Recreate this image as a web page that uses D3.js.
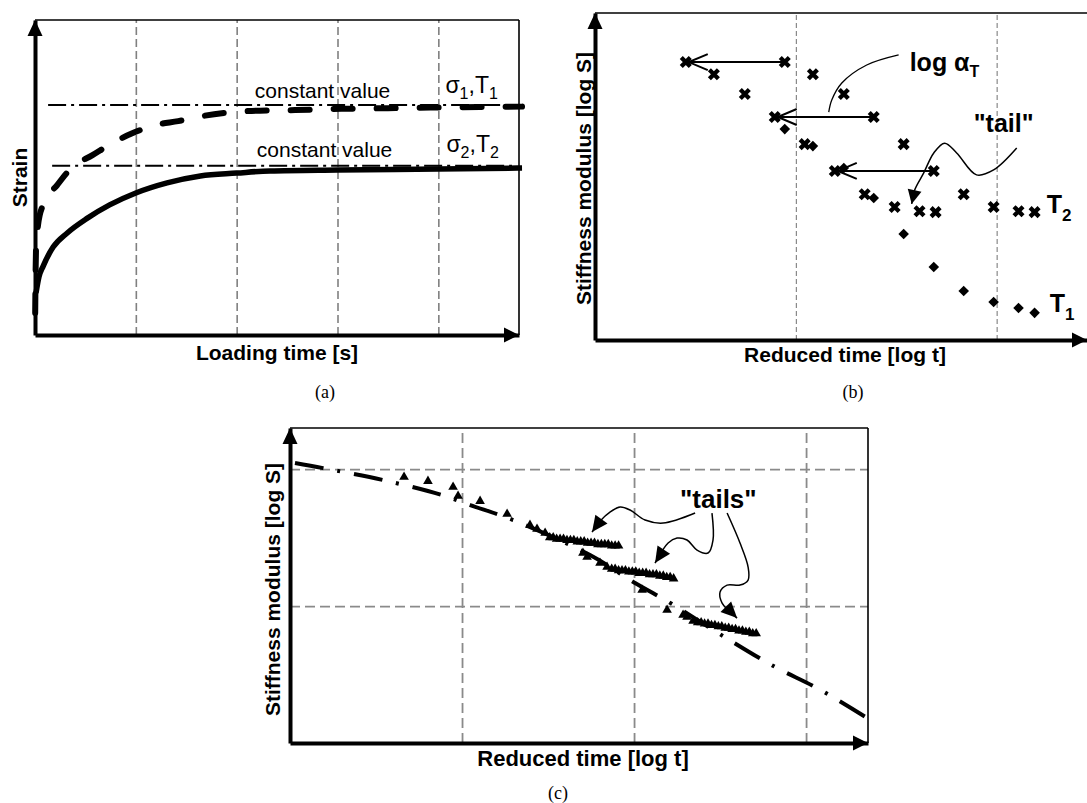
<!DOCTYPE html>
<html><head><meta charset="utf-8">
<script src="https://cdn.jsdelivr.net/npm/d3@7"></script>
<style>
body{margin:0;background:#fff;}
svg{display:block;}
text{font-family:"Liberation Sans",Arial,sans-serif;fill:#000;}
</style></head><body>
<svg id="chart" width="1087" height="803"></svg>
<script>
// ================= DATA =================
// Panel (a): strain vs loading time (schematic)
const aGridX = [1, 2, 3, 4];
const aConstLevels = [7.30, 5.37];
const aConstStart = [0.13, 0.17];
const aConstEnd = [4.83, 4.73];
const aConstLabels = ["constant value", "constant value"];
const aConstLabelPos = [[2.18, 7.52], [2.20, 5.65]];
const aSeriesSub = ["1", "2"];
const aSeriesLabelPos = [[4.07, 7.67], [4.08, 5.81]];
const aCurveDashed = [[0,0],[0.01,2.70],[0.03,3.49],[0.08,4.13],[0.22,4.76],[0.37,5.33],[0.57,5.71],[0.77,6.10],[0.97,6.41],[1.20,6.67],[1.42,6.79],[1.66,6.95],[1.88,7.05],[2.11,7.11],[2.58,7.14],[3.04,7.18],[3.50,7.20],[3.95,7.22],[4.41,7.24],[4.83,7.25]];
const aCurveSolid = [[0.01,1.33],[0.04,1.85],[0.08,2.18],[0.18,2.79],[0.32,3.24],[0.52,3.71],[0.74,4.13],[1.00,4.51],[1.31,4.83],[1.64,5.05],[2.00,5.14],[2.33,5.21],[3.00,5.24],[4.00,5.27],[4.83,5.30]];

// Panel (b): stiffness modulus vs reduced time, two temperatures
const bGridX = [1, 2];
const bTimes = [0.945, 1.085, 1.239, 1.388, 1.537, 1.687, 1.836, 1.985, 2.109, 2.189];
const bT1 = [6.45, 5.93, 5.26, 4.34, 3.24, 2.23, 1.50, 1.16, 0.98, 0.83];
const bT2 = [8.50, 8.13, 7.52, 6.82, 5.99, 5.17, 4.46, 4.07, 3.94, 3.91];
const bShift = 0.493;               // log aT
const bShiftArrows = [0, 3, 5];     // indices of T2 points with shift arrows
const bLogATCurve = [[1.512,8.72],[1.353,8.41],[1.229,7.86],[1.179,7.34],[1.164,6.97]];
const bTailCurve = [[2.100,5.87],[1.985,5.20],[1.900,5.05],[1.801,5.72],[1.741,6.02],[1.687,5.72],[1.637,5.11],[1.592,4.59],[1.577,4.16]];
const bLabels = {logAT:[1.567,8.23], tail:[1.886,6.36], T2:[2.249,3.88], T1:[2.264,0.86]};

// Panel (c): master curve with tails
const cGridX = [1, 2, 3];
const cGridY = [1, 2];
const cMaster = [[0.029,2.044],[0.192,2.007],[0.541,1.920],[0.884,1.810],[1.047,1.737],[1.297,1.628],[1.744,1.372],[2.006,1.168],[2.221,1.015],[2.517,0.781],[2.820,0.555],[3.064,0.401],[3.355,0.182]];
const cPoints = [[0.663,1.942],[0.802,1.912],[0.948,1.869],[0.977,1.803],[1.105,1.766],[1.262,1.672],[1.395,1.591],[1.436,1.562],[1.483,1.533],
  [1.703,1.387],[1.727,1.358],[1.802,1.314],[1.843,1.285],
  [2.047,1.117],[2.192,0.971],
  [2.285,0.934],[2.308,0.920],[2.343,0.891]];
const cTail1 = [[1.51,1.50],[1.53,1.50],[1.55,1.49],[1.57,1.49],[1.59,1.49],[1.61,1.48],[1.63,1.48],[1.65,1.48],[1.67,1.47],[1.69,1.47],[1.71,1.47],[1.73,1.46],[1.75,1.46],[1.77,1.46],[1.79,1.45],[1.81,1.45],[1.83,1.45],[1.85,1.45],[1.87,1.44],[1.89,1.44],[1.91,1.44]];
const cTail2 = [[1.87,1.27],[1.89,1.27],[1.91,1.26],[1.93,1.26],[1.95,1.26],[1.97,1.25],[1.99,1.25],[2.01,1.25],[2.03,1.24],[2.05,1.24],[2.07,1.24],[2.09,1.23],[2.11,1.23],[2.13,1.23],[2.15,1.22],[2.17,1.22],[2.19,1.21],[2.21,1.21],[2.23,1.20]];
const cTail3 = [[2.37,0.88],[2.39,0.88],[2.41,0.87],[2.43,0.87],[2.45,0.86],[2.47,0.86],[2.49,0.85],[2.51,0.85],[2.53,0.84],[2.55,0.84],[2.57,0.83],[2.59,0.83],[2.61,0.82],[2.63,0.82],[2.65,0.81],[2.67,0.81],[2.69,0.80],[2.71,0.80]];
const cTailArrows = [
  [[2.355,1.679],[2.169,1.606],[2.064,1.628],[1.977,1.701],[1.919,1.723],[1.860,1.686],[1.802,1.620],[1.756,1.540]],
  [[2.453,1.679],[2.459,1.482],[2.430,1.387],[2.366,1.409],[2.308,1.482],[2.250,1.496],[2.198,1.460],[2.122,1.314]],
  [[2.541,1.679],[2.616,1.460],[2.663,1.285],[2.663,1.190],[2.616,1.153],[2.541,1.153],[2.500,1.102],[2.512,1.022],[2.599,0.912]]
];
const cTailsLabel = [2.267, 1.715];

// ================= DRAWING =================
const svg = d3.select("#chart");
const BOLD = "bold";

function arrowHead(g, tip, from, len, hw) {
  const dx = tip[0]-from[0], dy = tip[1]-from[1], d = Math.hypot(dx,dy);
  const ux = dx/d, uy = dy/d;
  const bx = tip[0]-ux*len, by = tip[1]-uy*len;
  const p = [[tip[0],tip[1]],[bx-uy*hw, by+ux*hw],[bx+uy*hw, by-ux*hw]];
  g.append("path").attr("d","M"+p.map(q=>q.join(",")).join("L")+"Z").attr("fill","#000");
}

function frame(g, x, y, opt) {
  const [x0,x1] = x.domain(), [y0,y1] = y.domain();
  if (opt.gridX) {
    g.append("g").attr("transform",`translate(0,${y(y0)})`)
      .call(d3.axisBottom(x).tickValues(opt.gridX).tickSize(-(y(y0)-y(y1))).tickFormat(""))
      .call(s=>s.select(".domain").remove())
      .selectAll("line").attr("stroke",opt.gridColor).attr("stroke-width",opt.gridW).attr("stroke-dasharray",opt.gridDash);
  }
  if (opt.gridY) {
    g.append("g").attr("transform",`translate(${x(x0)},0)`)
      .call(d3.axisLeft(y).tickValues(opt.gridY).tickSize(-(x(x1)-x(x0))).tickFormat(""))
      .call(s=>s.select(".domain").remove())
      .selectAll("line").attr("stroke",opt.gridColor).attr("stroke-width",opt.gridW).attr("stroke-dasharray",opt.gridDash);
  }
  g.append("line").attr("x1",x(x0)).attr("x2",x(x1)).attr("y1",y(y1)).attr("y2",y(y1)).attr("stroke","#000").attr("stroke-width",1.6);
  if (opt.rightBorder) g.append("line").attr("x1",x(x1)).attr("x2",x(x1)).attr("y1",y(y1)).attr("y2",y(y0)).attr("stroke","#000").attr("stroke-width",1.6);
  g.append("g").attr("transform",`translate(${x(x0)},0)`)
    .call(d3.axisLeft(y).tickValues([]).tickSizeOuter(0))
    .select(".domain").attr("stroke","#000").attr("stroke-width",4);
  g.append("g").attr("transform",`translate(0,${y(y0)})`)
    .call(d3.axisBottom(x).tickValues([]).tickSizeOuter(0))
    .select(".domain").attr("stroke","#000").attr("stroke-width",4);
  arrowHead(g,[x(x0),y(y1)],[x(x0),y(y0)],16,7.5);
  arrowHead(g,[x(x1),y(y0)],[x(x0),y(y0)],15,7.5);
}

// ---------- Panel (a) ----------
{
  const g = svg.append("g");
  const x = d3.scaleLinear([0,4.8],[35,519]);
  const y = d3.scaleLinear([0,10],[335,20]);
  frame(g,x,y,{gridX:aGridX,gridColor:"#808080",gridW:1.6,gridDash:"8,4",rightBorder:true});
  aConstLevels.forEach((v,i)=>{
    g.append("line").attr("x1",x(aConstStart[i])).attr("x2",x(aConstEnd[i])).attr("y1",y(v)).attr("y2",y(v))
      .attr("stroke","#000").attr("stroke-width",2).attr("stroke-dasharray","18,5,3,5");
    g.append("text").attr("x",x(aConstLabelPos[i][0])).attr("y",y(aConstLabelPos[i][1]))
      .attr("font-size",21).text(aConstLabels[i]);
    const t = g.append("text").attr("x",x(aSeriesLabelPos[i][0])).attr("y",y(aSeriesLabelPos[i][1])).attr("font-size",23);
    t.append("tspan").text("σ");
    t.append("tspan").attr("font-size",16).attr("dy",6).text(aSeriesSub[i]);
    t.append("tspan").attr("dy",-6).text(",T");
    t.append("tspan").attr("font-size",16).attr("dy",6).text(aSeriesSub[i]);
  });
  const line = d3.line().x(d=>x(d[0])).y(d=>y(d[1])).curve(d3.curveMonotoneX);
  g.append("path").attr("d",line(aCurveSolid)).attr("fill","none").attr("stroke","#000").attr("stroke-width",5.5);
  g.append("path").attr("d",line(aCurveDashed)).attr("fill","none").attr("stroke","#000").attr("stroke-width",6)
    .attr("stroke-linecap","round").attr("stroke-dasharray","19,24").attr("stroke-dashoffset",21);
  g.append("text").attr("transform",`translate(27,${(y(0)+y(10))/2}) rotate(-90)`).attr("text-anchor","middle")
    .attr("font-size",21).attr("font-weight",BOLD).text("Strain");
  g.append("text").attr("x",(x(0)+x(4.8))/2).attr("y",360).attr("text-anchor","middle")
    .attr("font-size",21).attr("font-weight",BOLD).text("Loading time [s]");
  g.append("text").attr("x",325).attr("y",398).attr("text-anchor","middle")
    .style("font-family","'Liberation Serif','Times New Roman',serif").attr("font-size",18).text("(a)");
}

// ---------- Panel (b) ----------
{
  const g = svg.append("g");
  const x = d3.scaleLinear([0,2.45],[595,1087]);
  const y = d3.scaleLinear([0,10],[340,13]);
  frame(g,x,y,{gridX:bGridX,gridColor:"#707070",gridW:1,gridDash:"5,3",rightBorder:false});
  const line = d3.line().x(d=>x(d[0])).y(d=>y(d[1])).curve(d3.curveCatmullRom);
  bShiftArrows.forEach(i=>{
    const xr = x(bTimes[i]), xl = x(bTimes[i]-bShift)+3, yy = y(bT2[i]);
    g.append("line").attr("x1",xr).attr("x2",xl).attr("y1",yy).attr("y2",yy).attr("stroke","#000").attr("stroke-width",2);
    g.append("path").attr("d",`M${xl+19},${yy-8}L${xl},${yy}L${xl+19},${yy+8}`).attr("fill","none").attr("stroke","#000").attr("stroke-width",2);
  });
  g.selectAll(".t1").data(bTimes.map((t,i)=>[t,bT1[i]])).join("path")
    .attr("transform",d=>`translate(${x(d[0])},${y(d[1])}) rotate(45)`)
    .attr("d",d3.symbol(d3.symbolSquare,56)()).attr("fill","#000");
  const cross = d=>{const cx=x(d[0]),cy=y(d[1]),s=4.5;return `M${cx-s},${cy-s}L${cx+s},${cy+s}M${cx-s},${cy+s}L${cx+s},${cy-s}`;};
  const t2 = bTimes.map((t,i)=>[t,bT2[i]]).concat(bTimes.map((t,i)=>[t-bShift,bT2[i]]));
  g.selectAll(".t2").data(t2).join("path").attr("d",cross).attr("stroke","#000").attr("stroke-width",4.3).attr("fill","none");
  g.append("path").attr("d",line(bLogATCurve)).attr("fill","none").attr("stroke","#000").attr("stroke-width",1.3);
  g.append("path").attr("d",line(bTailCurve)).attr("fill","none").attr("stroke","#000").attr("stroke-width",1.5);
  const n = bTailCurve.length;
  arrowHead(g,[x(bTailCurve[n-1][0]),y(bTailCurve[n-1][1])],[x(bTailCurve[n-2][0]),y(bTailCurve[n-2][1])],14,7);
  const la = g.append("text").attr("x",x(bLabels.logAT[0])).attr("y",y(bLabels.logAT[1])).attr("font-size",25).attr("font-weight",BOLD);
  la.append("tspan").text("log α");
  la.append("tspan").attr("font-size",16).attr("dy",6).text("T");
  g.append("text").attr("x",x(bLabels.tail[0])).attr("y",y(bLabels.tail[1])).attr("font-size",25).attr("font-weight",BOLD).text("\"tail\"");
  [["T2","2"],["T1","1"]].forEach(([k,s])=>{
    const t = g.append("text").attr("x",x(bLabels[k][0])).attr("y",y(bLabels[k][1])).attr("font-size",25).attr("font-weight",BOLD);
    t.append("tspan").text("T");
    t.append("tspan").attr("font-size",17).attr("dy",8).text(s);
  });
  g.append("text").attr("transform",`translate(591,${(y(0)+y(10))/2+2}) rotate(-90)`).attr("text-anchor","middle")
    .attr("font-size",21).attr("font-weight",BOLD).text("Stiffness modulus [log S]");
  g.append("text").attr("x",845).attr("y",362).attr("text-anchor","middle")
    .attr("font-size",21).attr("font-weight",BOLD).text("Reduced time [log t]");
  g.append("text").attr("x",853).attr("y",398).attr("text-anchor","middle")
    .style("font-family","'Liberation Serif','Times New Roman',serif").attr("font-size",18).text("(b)");
}

// ---------- Panel (c) ----------
{
  const g = svg.append("g");
  const x = d3.scaleLinear([0,3.36],[290,868]);
  const y = d3.scaleLinear([0,2.3],[743,428]);
  frame(g,x,y,{gridX:cGridX,gridY:cGridY,gridColor:"#8a8a8a",gridW:1.8,gridDash:"10,5",rightBorder:true});
  const line = d3.line().x(d=>x(d[0])).y(d=>y(d[1])).curve(d3.curveCatmullRom);
  g.append("path").attr("d",line(cMaster)).attr("fill","none").attr("stroke","#000").attr("stroke-width",4)
    .attr("stroke-dasharray","29,14,3,14");
  const tri = d3.symbol(d3.symbolTriangle,40);
  const allTri = cPoints.concat(cTail1,cTail2,cTail3);
  g.selectAll(".tri").data(allTri).join("path")
    .attr("transform",d=>`translate(${x(d[0])},${y(d[1])})`).attr("d",tri()).attr("fill","#000");
  cTailArrows.forEach(pts=>{
    g.append("path").attr("d",line(pts)).attr("fill","none").attr("stroke","#000").attr("stroke-width",1.5);
    const n = pts.length;
    arrowHead(g,[x(pts[n-1][0]),y(pts[n-1][1])],[x(pts[n-2][0]),y(pts[n-2][1])],16,7.5);
  });
  g.append("text").attr("x",x(cTailsLabel[0])).attr("y",y(cTailsLabel[1])).attr("font-size",26).attr("font-weight",BOLD).text("\"tails\"");
  g.append("text").attr("transform",`translate(280,${(y(0)+y(2.3))/2+4}) rotate(-90)`).attr("text-anchor","middle")
    .attr("font-size",21).attr("font-weight",BOLD).text("Stiffness modulus [log S]");
  g.append("text").attr("x",583).attr("y",766).attr("text-anchor","middle")
    .attr("font-size",22).attr("font-weight",BOLD).text("Reduced time [log t]");
  g.append("text").attr("x",558).attr("y",799).attr("text-anchor","middle")
    .style("font-family","'Liberation Serif','Times New Roman',serif").attr("font-size",18).text("(c)");
}
</script>
</body></html>
